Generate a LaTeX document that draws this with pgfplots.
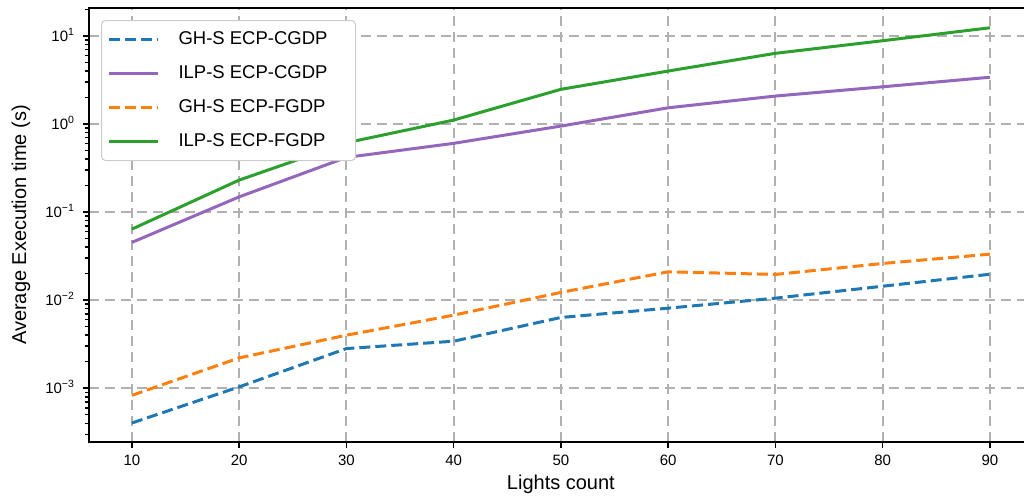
\documentclass[border=0pt]{standalone}
\usepackage{fontspec}
\setmainfont{Liberation Sans}
\usepackage{pgfplots}
\pgfplotsset{compat=1.18}
\definecolor{cblue}{HTML}{1F77B4}
\definecolor{corange}{HTML}{FF7F0E}
\definecolor{cgreen}{HTML}{2CA02C}
\definecolor{cpurple}{HTML}{9467BD}
\definecolor{cgrid}{HTML}{B0B0B0}
\newcommand{\pad}{\rule{20pt}{0pt}}
\begin{document}
\begin{tikzpicture}
\begin{axis}[
  at={(0pt,0pt)}, anchor=south west,
  scale only axis, width=943.8pt, height=434pt,
  xmin=6, xmax=94, ymode=log, ymin=2.45e-4, ymax=20.8,
  xtick={10,20,...,90},
  /pgf/number format/assume math mode=true,
  ytick={1e-3,1e-2,1e-1,1,10},
  yticklabels={10\textsuperscript{−3},10\textsuperscript{−2},10\textsuperscript{−1},10\textsuperscript{0},10\textsuperscript{1}},
  minor ytick={3e-4,4e-4,5e-4,6e-4,7e-4,8e-4,9e-4,
    2e-3,3e-3,4e-3,5e-3,6e-3,7e-3,8e-3,9e-3,
    2e-2,3e-2,4e-2,5e-2,6e-2,7e-2,8e-2,9e-2,
    0.2,0.3,0.4,0.5,0.6,0.7,0.8,0.9,
    2,3,4,5,6,7,8,9,20},
  tick align=outside, xtick pos=left, ytick pos=left,
  major tick length=6pt, minor tick length=4pt,
  every tick/.style={black, line width=1.5pt},
  axis line style={black, line width=2.5pt},
  xmajorgrids, ymajorgrids,
  major grid style={cgrid, line width=2pt, dash pattern=on 10pt off 6pt},
  ticklabel style={font=\fontsize{15}{17}\selectfont},
  xticklabel style={anchor=base, yshift=-18pt},
  yticklabel style={anchor=base east, yshift=-5pt, xshift=-5pt},
  xlabel={Lights count},
  ylabel={Average Execution time (s)},
  label style={font=\fontsize{20}{24}\selectfont},
  xlabel style={at={(axis description cs:0.5,-0.1094)}, anchor=base},
  ylabel style={at={(axis description cs:-0.072,0.5)}, anchor=center, rotate=0},
  legend cell align=left,
  legend image code/.code={\draw[#1] (0pt,0pt) -- (49pt,0pt);},
  legend style={at={(axis description cs:0,1)}, anchor=north west,
    xshift=12pt, yshift=-12pt, draw=black!20, line width=1pt,
    rounded corners=4pt, fill=white,
    font=\fontsize{18.5}{22}\selectfont,
    inner xsep=6pt, inner ysep=8pt, row sep=12pt, column sep=17pt,
    nodes={inner sep=2pt, text height=14pt, text depth=4pt}},
  dashline/.style={line width=3pt, dash pattern=on 11pt off 5pt},
  solidline/.style={line width=3pt},
]
\addplot[cblue, dashline] coordinates {
 (10,4.03e-4) (20,1.035e-3) (30,2.82e-3) (40,3.42e-3) (50,6.36e-3)
 (60,8.11e-3) (70,1.054e-2) (80,1.44e-2) (90,1.97e-2)};
\addlegendentry{GH-S ECP-CGDP\pad}
\addplot[cpurple, solidline] coordinates {
 (10,0.0453) (20,0.149) (30,0.418) (40,0.604) (50,0.949)
 (60,1.53) (70,2.08) (80,2.65) (90,3.40)};
\addlegendentry{ILP-S ECP-CGDP\pad}
\addplot[corange, dashline] coordinates {
 (10,8.3e-4) (20,2.21e-3) (30,4.0e-3) (40,6.76e-3) (50,1.224e-2)
 (60,2.10e-2) (70,1.96e-2) (80,2.61e-2) (90,3.33e-2)};
\addlegendentry{GH-S ECP-FGDP\pad}
\addplot[cgreen, solidline] coordinates {
 (10,0.0641) (20,0.231) (30,0.613) (40,1.11) (50,2.48)
 (60,4.0) (70,6.36) (80,8.84) (90,12.4)};
\addlegendentry{ILP-S ECP-FGDP\pad}
\end{axis}
\pgfresetboundingbox
\useasboundingbox (-89pt,-54pt) rectangle (935pt,442pt);
\end{tikzpicture}
\end{document}
